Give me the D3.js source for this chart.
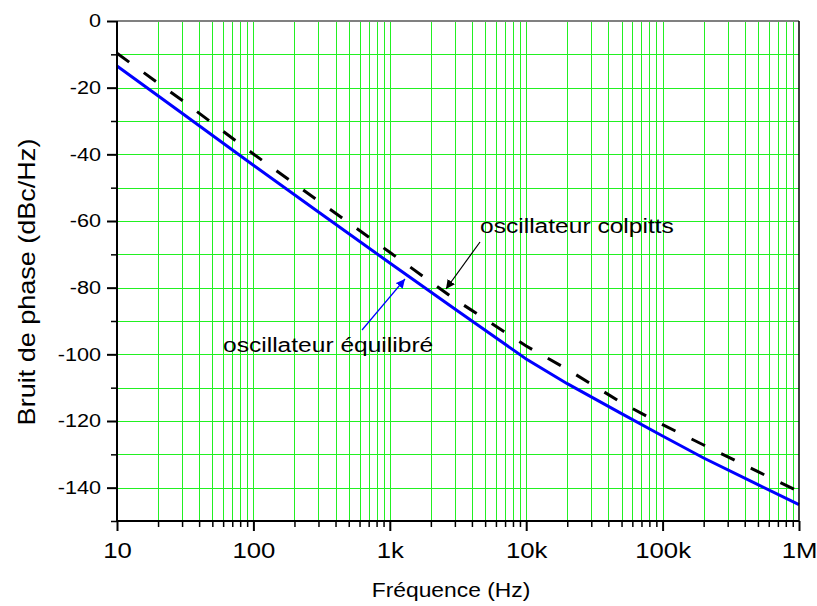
<!DOCTYPE html>
<html><head><meta charset="utf-8">
<script src="https://cdn.jsdelivr.net/npm/d3@7/dist/d3.min.js"></script>
<style>body{margin:0;background:#fff}svg{display:block}text{font-family:"Liberation Sans",Arial,sans-serif;fill:#000}</style>
</head><body>
<script>
// Data
const freqs = [10, 30, 100, 300, 1e3, 3e3, 1e4, 2e4, 5e4, 1e5, 2e5, 5e5, 1e6];
const equilibre = [-13.5, -27.7, -43.3, -57.3, -72.6, -86.4, -101.4, -108.8, -117.8, -124.5, -131.1, -139.1, -145.1];
const colpitts = [-9.7, -23.8, -39.9, -54.0, -69.4, -83.5, -97.5, -104.5, -114.5, -121.1, -127.2, -135.2, -141.2];
const xTickValues = [10, 100, 1e3, 1e4, 1e5, 1e6];
const xTickLabels = ["10", "100", "1k", "10k", "100k", "1M"];
const yTickValues = [0, -20, -40, -60, -80, -100, -120, -140];
const yTickLabels = ["0", "-20", "-40", "-60", "-80", "-100", "-120", "-140"];

const W = 817, H = 606;
const L = 117, R = 799, T = 21, B = 521;
const SX = 1.17;

const svg = d3.select("body").append("svg").attr("width", W).attr("height", H);
const x = d3.scaleLog().domain([10, 1e6]).range([L, R]);
const y = d3.scaleLinear().domain([-150, 0]).range([B, T]);

const minors = [];
for (let d = 10; d < 1e6; d *= 10) for (let k = 2; k <= 9; k++) minors.push(d * k);
const allV = minors.concat([100, 1e3, 1e4, 1e5]);
const hGrid = d3.range(-140, 0, 10);

const grid = svg.append("g").attr("stroke", "#22f022").attr("stroke-width", 1);
grid.selectAll("line.v").data(allV).join("line")
  .attr("x1", d => Math.round(x(d)) + 0.5).attr("x2", d => Math.round(x(d)) + 0.5)
  .attr("y1", T).attr("y2", B);
grid.selectAll("line.h").data(hGrid).join("line")
  .attr("x1", L).attr("x2", R)
  .attr("y1", d => Math.round(y(d)) + 0.5).attr("y2", d => Math.round(y(d)) + 0.5);

const line = d3.line().x((d, i) => x(freqs[i])).y(d => y(d));
svg.append("path").datum(colpitts).attr("d", line).attr("fill", "none")
  .attr("stroke", "#000").attr("stroke-width", 3).attr("stroke-dasharray", "15,18");
svg.append("path").datum(equilibre).attr("d", line).attr("fill", "none")
  .attr("stroke", "#0000ff").attr("stroke-width", 3);

// frame
svg.append("line").attr("x1", L).attr("x2", R).attr("y1", T).attr("y2", T).attr("stroke", "#808080").attr("stroke-width", 2);
svg.append("line").attr("x1", R).attr("x2", R).attr("y1", T).attr("y2", B).attr("stroke", "#000").attr("stroke-width", 1.5);

// axes
const xAxis = d3.axisBottom(x).tickValues(xTickValues).tickFormat((d, i) => xTickLabels[i]).tickSize(10);
const gx = svg.append("g").attr("transform", `translate(0,${B})`).call(xAxis);
gx.select(".domain").attr("stroke-width", 2).attr("d", `M${L},0H${R}`);
gx.selectAll(".tick line").attr("stroke-width", 2);
gx.selectAll(".tick text").attr("font-size", 22).attr("font-family", "Liberation Sans, Arial, sans-serif")
  .attr("dy", null).attr("y", 0)
  .attr("transform", `translate(0,37) scale(${SX},1)`);
const gxm = svg.append("g").attr("transform", `translate(0,${B})`)
  .call(d3.axisBottom(x).tickValues(minors).tickFormat("").tickSize(6));
gxm.select(".domain").remove();
gxm.selectAll(".tick line").attr("stroke-width", 1.5);

const yAxis = d3.axisLeft(y).tickValues(yTickValues).tickFormat((d, i) => yTickLabels[i]).tickSize(10).tickPadding(6);
const gy = svg.append("g").attr("transform", `translate(${L},0)`).call(yAxis);
gy.select(".domain").attr("stroke-width", 2).attr("d", `M0,${T}V${B}`);
gy.selectAll(".tick line").attr("stroke-width", 2);
gy.selectAll(".tick text").attr("font-size", 18.5).attr("font-family", "Liberation Sans, Arial, sans-serif")
  .attr("transform", `translate(-16,0) scale(${SX},1) translate(16,0)`);
const gym = svg.append("g").attr("transform", `translate(${L},0)`)
  .call(d3.axisLeft(y).tickValues(d3.range(-150, 0, 20)).tickFormat("").tickSize(6));
gym.select(".domain").remove();
gym.selectAll(".tick line").attr("stroke-width", 1.5);

// titles
svg.append("text").attr("transform", `translate(${(L + R) / 2 - 7},597) scale(${SX},1)`)
  .attr("text-anchor", "middle").attr("font-size", 19.5).text("Fréquence (Hz)");
svg.append("text").attr("transform", `translate(35,282) rotate(-90) scale(1.15,1)`)
  .attr("text-anchor", "middle").attr("font-size", 23.5).text("Bruit de phase (dBc/Hz)");

// annotations
const defs = svg.append("defs");
function marker(id, color) {
  defs.append("marker").attr("id", id).attr("viewBox", "0 0 10 10").attr("refX", 10).attr("refY", 5)
    .attr("markerWidth", 9).attr("markerHeight", 9).attr("markerUnits", "userSpaceOnUse").attr("orient", "auto")
    .append("path").attr("d", "M0,0L10,5L0,10z").attr("fill", color);
}
marker("ab", "#000"); marker("aw", "#0000ff");
svg.append("line").attr("x1", 480).attr("y1", 242).attr("x2", 446).attr("y2", 289)
  .attr("stroke", "#000").attr("stroke-width", 1.2).attr("marker-end", "url(#ab)");
svg.append("text").attr("transform", `translate(480,233) scale(${SX},1)`).attr("font-size", 21).text("oscillateur colpitts");
svg.append("line").attr("x1", 362).attr("y1", 330).attr("x2", 405).attr("y2", 279)
  .attr("stroke", "#0000ff").attr("stroke-width", 1.2).attr("marker-end", "url(#aw)");
svg.append("text").attr("transform", `translate(223,352) scale(${SX},1)`).attr("font-size", 21).text("oscillateur équilibré");
</script>
</body></html>
